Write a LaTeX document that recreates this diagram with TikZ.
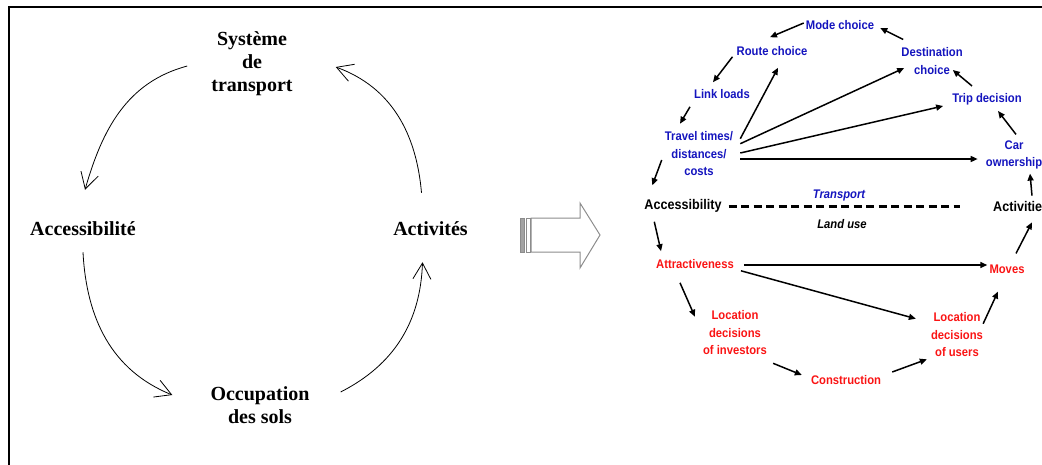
\documentclass[tikz,border=0pt]{standalone}
\usepackage{fontspec}
\setmainfont{Liberation Serif}
\newfontfamily\schemafont[FakeStretch=0.9]{Liberation Sans}
\usepackage{xcolor}
\usetikzlibrary{arrows.meta, positioning}
\definecolor{bluTrasporto}{RGB}{20,20,190}
\definecolor{rossoSuolo}{RGB}{250,20,20}
\definecolor{grigioFreccia}{RGB}{140,140,140}

\begin{document}
\begin{tikzpicture}[x=1pt, y=1pt,
    ciclo/.style={font=\bfseries\fontsize{20}{23}\selectfont, align=center, inner sep=0pt},
    voce/.style={font=\schemafont\bfseries\fontsize{12.5}{17.5}\selectfont, align=center, inner sep=0pt},
    polo/.style={font=\schemafont\bfseries\fontsize{14}{17}\selectfont, inner sep=0pt},
    arco/.style={line width=0.8pt, -{Straight Barb[length=16pt, width=18pt]}},
    freccia/.style={line width=1.5pt, -{Triangle[length=7pt, width=6pt]}}
]

    \useasboundingbox (0,0) rectangle (1042,-464);

    % ==========================================
    % 0. CORNICE
    % ==========================================
    \draw[line width=2.5pt] (1060,-7) -| (9,-480);

    % ==========================================
    % 1. CICLO (A SINISTRA)
    % ==========================================
    \node[ciclo] (systeme)       at (252,-64)   {Système\\de\\transport};
    \node[ciclo] (accessibilite) at (83,-229)   {Accessibilité};
    \node[ciclo] (activites)     at (430.5,-229) {Activités};
    \node[ciclo] (occupation)    at (260,-405)  {Occupation\\des sols};

    \draw[arco] ([shift={(-24,-2)}]systeme.west) to[out=195, in=74] ([shift={(2,32)}]accessibilite.north);
    \draw[arco] ([shift={(0,-16)}]accessibilite.south) to[out=273, in=158] ([shift={(-38,10)}]occupation.west);
    \draw[arco] ([shift={(31,13)}]occupation.east) to[out=27, in=268] ([shift={(-8,-26)}]activites.south);
    \draw[arco] ([shift={(-9,29)}]activites.north) to[out=95, in=340] ([shift={(43,-3)}]systeme.east);

    % ==========================================
    % 2. FRECCIA GRANDE (AL CENTRO)
    % ==========================================
    \fill[grigioFreccia!80] (520,-218) rectangle (524,-252);
    \draw[grigioFreccia, line width=0.8pt] (520,-218) rectangle (524,-252);
    \draw[grigioFreccia, line width=0.8pt] (526,-218) rectangle (530,-252);
    \draw[grigioFreccia, line width=1pt] (531,-218) -- (580,-218) -- (580,-203) -- (600,-235)
        -- (580,-268) -- (580,-252) -- (531,-252) -- cycle;

    % ==========================================
    % 3. SCHEMA (A DESTRA)
    % ==========================================
    % Trasporto
    \node[voce, bluTrasporto] (modeChoice)   at (840,-25)  {Mode choice};
    \node[voce, bluTrasporto] (routeChoice)  at (772,-51)  {Route choice};
    \node[voce, bluTrasporto] (destChoice)   at (932,-61)  {Destination\\choice};
    \node[voce, bluTrasporto] (linkLoads)    at (722,-94)  {Link loads};
    \node[voce, bluTrasporto] (tripDecision) at (987,-99)  {Trip decision};
    \node[voce, bluTrasporto] (travelTimes)  at (699,-154) {Travel times/\\distances/\\costs};
    \node[voce, bluTrasporto] (carOwnership) at (1014,-155) {Car\\ownership};

    % Linea di separazione
    \node[polo] (accessibility) at (683,-206) {Accessibility};
    \node[polo, anchor=west] (activities) at (993,-206) {Activities};
    \node[voce, bluTrasporto, font=\schemafont\bfseries\itshape\fontsize{12.5}{15}\selectfont] (transportLbl) at (839,-195) {Transport};
    \node[voce, font=\schemafont\bfseries\itshape\fontsize{12.5}{15}\selectfont] (landUseLbl) at (842,-224) {Land use};

    % Uso del suolo
    \node[voce, rossoSuolo] (attractiveness) at (695,-264) {Attractiveness};
    \node[voce, rossoSuolo] (moves)          at (1007,-269) {Moves};
    \node[voce, rossoSuolo] (locInvestors)   at (735,-333) {Location\\decisions\\of investors};
    \node[voce, rossoSuolo] (locUsers)       at (957,-335) {Location\\decisions\\of users};
    \node[voce, rossoSuolo] (construction)   at (846,-380) {Construction};

    \draw[line width=3pt, dash pattern=on 8pt off 4.5pt, shorten <=7pt, shorten >=33pt] (accessibility.east) -- (activities.west);

    % Frecce (archi)
    \draw[freccia] ([shift={(2,8)}]destChoice.north west) -- ([shift={(6,-3)}]modeChoice.east);
    \draw[freccia] ([shift={(-2,2)}]modeChoice.west) -- ([shift={(-2,9)}]routeChoice.north);
    \draw[freccia] ([shift={(-4,-1)}]routeChoice.south west) -- ([shift={(-9,7)}]linkLoads.north);
    \draw[freccia] ([shift={(-4,-8)}]linkLoads.south west) -- ([shift={(-19,8)}]travelTimes.north);
    \draw[freccia] ([shift={(-3,-6)}]travelTimes.west) -- ([shift={(8,14)}]accessibility.north west);
    \draw[freccia] ([shift={(7,-7)}]travelTimes.north east) -- ([shift={(6,-12)}]routeChoice.south);
    \draw[freccia] ([shift={(7,-12)}]travelTimes.north east) -- ([shift={(3,-7)}]destChoice.west);
    \draw[freccia] ([shift={(7,1)}]travelTimes.east) -- ([shift={(-9,-7)}]tripDecision.west);
    \draw[freccia] ([shift={(7,-5)}]travelTimes.east) -- ([shift={(-8,-4)}]carOwnership.west);
    \draw[freccia] ([shift={(-15,7)}]tripDecision.north) -- ([shift={(-10,-9)}]destChoice.east);
    \draw[freccia] ([shift={(2,6)}]carOwnership.north) -- ([shift={(11,-6)}]tripDecision.south);
    \draw[freccia] ([shift={(39,5)}]activities.north west) -- ([shift={(16,-4)}]carOwnership.south);
    \draw[freccia] ([shift={(10,-9)}]accessibility.south west) -- ([shift={(5,8)}]attractiveness.north west);
    \draw[freccia] ([shift={(10,-1)}]attractiveness.east) -- ([shift={(-2,4)}]moves.west);
    \draw[freccia] ([shift={(7,-2)}]attractiveness.south east) -- ([shift={(-15,-6)}]locUsers.north west);
    \draw[freccia] ([shift={(-15,-14)}]attractiveness.south) -- ([shift={(-8,-6)}]locInvestors.north west);
    \draw[freccia] ([shift={(6,-8)}]locInvestors.south east) -- ([shift={(-9,5)}]construction.west);
    \draw[freccia] ([shift={(11,8)}]construction.east) -- ([shift={(-4,-2)}]locUsers.south west);
    \draw[freccia] ([shift={(0,-11)}]locUsers.north east) -- ([shift={(-9,-18)}]moves.south);
    \draw[freccia] ([shift={(9,11)}]moves.north) -- ([shift={(39,-11)}]activities.south west);

\end{tikzpicture}
\end{document}
